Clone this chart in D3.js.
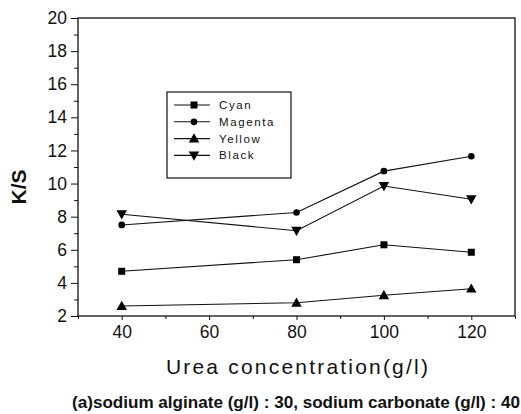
<!DOCTYPE html>
<html>
<head>
<meta charset="utf-8">
<script src="https://cdn.jsdelivr.net/npm/d3@7"></script>
<style>
  body { margin: 0; background: #fff; }
  svg { display: block; }
  text { font-family: "Liberation Sans", Arial, sans-serif; fill: #111; }
</style>
</head>
<body>
<svg id="chart" width="521" height="414"></svg>
<script>
var urea = [40, 80, 100, 120];
var cyan = [4.7, 5.4, 6.3, 5.85];
var magenta = [7.5, 8.25, 10.75, 11.65];
var yellow = [2.6, 2.8, 3.25, 3.65];
var black = [8.15, 7.15, 9.85, 9.05];
var seriesNames = ["Cyan", "Magenta", "Yellow", "Black"];
var seriesShapes = ["square", "circle", "triangle", "triangleDown"];
var xTicks = [40, 60, 80, 100, 120];
var yTicks = [2, 4, 6, 8, 10, 12, 14, 16, 18, 20];

var allSeries = [cyan, magenta, yellow, black];

var margin = {left: 78, top: 18, right: 6, bottom: 98};
var width = 521 - margin.left - margin.right;
var height = 414 - margin.top - margin.bottom;

var svg = d3.select("#chart");
var g = svg.append("g")
	.attr("transform", "translate(" + margin.left + "," + margin.top + ")");

var x = d3.scaleLinear().domain([30, 130]).range([0, width]);
var y = d3.scaleLinear().domain([2, 20]).range([height, 0]);

// minor ticks first, then majors
var yMinor = d3.axisLeft(y).tickValues(d3.range(3, 20, 2)).tickSize(4).tickFormat("");
var yMajor = d3.axisLeft(y).tickValues(yTicks).tickSize(7).tickPadding(4);
var xMinor = d3.axisBottom(x).tickValues(d3.range(30, 131, 20)).tickSize(3).tickFormat("");
var xMajor = d3.axisBottom(x).tickValues(xTicks).tickSize(4).tickPadding(6);

function styleAxis(sel) {
	sel.select(".domain").remove();
	sel.selectAll("line").attr("stroke", "#111");
	sel.selectAll("text").attr("font-size", 17.5).attr("fill", "#333")
		.style("font-family", "'Liberation Sans', Arial, sans-serif");
}

g.append("g").call(yMinor).call(styleAxis);
g.append("g").call(yMajor).call(styleAxis);
g.append("g").attr("transform", "translate(0," + height + ")").call(xMinor).call(styleAxis);
g.append("g").attr("transform", "translate(0," + height + ")").call(xMajor).call(styleAxis);

// frame
g.append("rect")
	.attr("width", width).attr("height", height)
	.attr("fill", "none").attr("stroke", "#111").attr("stroke-width", 1.3);

var line = d3.line()
	.x(function(d, i) { return x(urea[i]); })
	.y(function(d) { return y(d); });

function marker(sel, shape, size) {
	if (shape === "square") {
		sel.append("rect").attr("x", -size / 2).attr("y", -size / 2)
			.attr("width", size).attr("height", size);
	} else if (shape === "circle") {
		sel.append("circle").attr("r", size / 2.1);
	} else if (shape === "triangle") {
		var s = size * 0.75;
		sel.append("path").attr("d", "M0," + (-s) + "L" + s + "," + (s * 0.75) + "L" + (-s) + "," + (s * 0.75) + "Z");
	} else {
		var t = size * 0.75;
		sel.append("path").attr("d", "M0," + t + "L" + t + "," + (-t * 0.75) + "L" + (-t) + "," + (-t * 0.75) + "Z");
	}
	sel.selectAll("*").attr("fill", "#000");
}

allSeries.forEach(function(values, k) {
	g.append("path")
		.datum(values)
		.attr("d", line)
		.attr("fill", "none")
		.attr("stroke", "#111")
		.attr("stroke-width", 1.1);
	values.forEach(function(v, i) {
		var m = g.append("g").attr("transform", "translate(" + x(urea[i]) + "," + y(v) + ")");
		marker(m, seriesShapes[k], 7);
	});
});

// legend
var legend = svg.append("g").attr("transform", "translate(167,92)");
legend.append("rect")
	.attr("width", 124).attr("height", 86)
	.attr("fill", "#fff").attr("stroke", "#111").attr("stroke-width", 1.2);
seriesNames.forEach(function(name, k) {
	var row = legend.append("g").attr("transform", "translate(0," + (13 + k * 16.8) + ")");
	row.append("line").attr("x1", 7).attr("x2", 43).attr("stroke", "#111").attr("stroke-width", 1.1);
	var m = row.append("g").attr("transform", "translate(27,0)");
	marker(m, seriesShapes[k], 7);
	row.append("text").attr("x", 52).attr("dy", "0.35em")
		.attr("font-size", 11.5).attr("letter-spacing", 1.6).text(name);
});

// axis titles
svg.append("text")
	.attr("transform", "translate(26," + (margin.top + height / 2 + 20) + ") rotate(-90)")
	.attr("text-anchor", "middle").attr("font-size", 21).attr("font-weight", "bold")
	.text("K/S");

svg.append("text")
	.attr("x", 298).attr("y", 374)
	.attr("text-anchor", "middle").attr("font-size", 21).attr("letter-spacing", 2.2)
	.text("Urea concentration(g/l)");

svg.append("text")
	.attr("x", 72).attr("y", 408)
	.attr("font-size", 17).attr("font-weight", "bold")
	.attr("textLength", 448).attr("lengthAdjust", "spacingAndGlyphs")
	.style("font-family", "'Liberation Sans Narrow', 'Arial Narrow', 'Liberation Sans', sans-serif")
	.text("(a)sodium alginate (g/l) : 30, sodium carbonate (g/l) : 40");
</script>
</body>
</html>
